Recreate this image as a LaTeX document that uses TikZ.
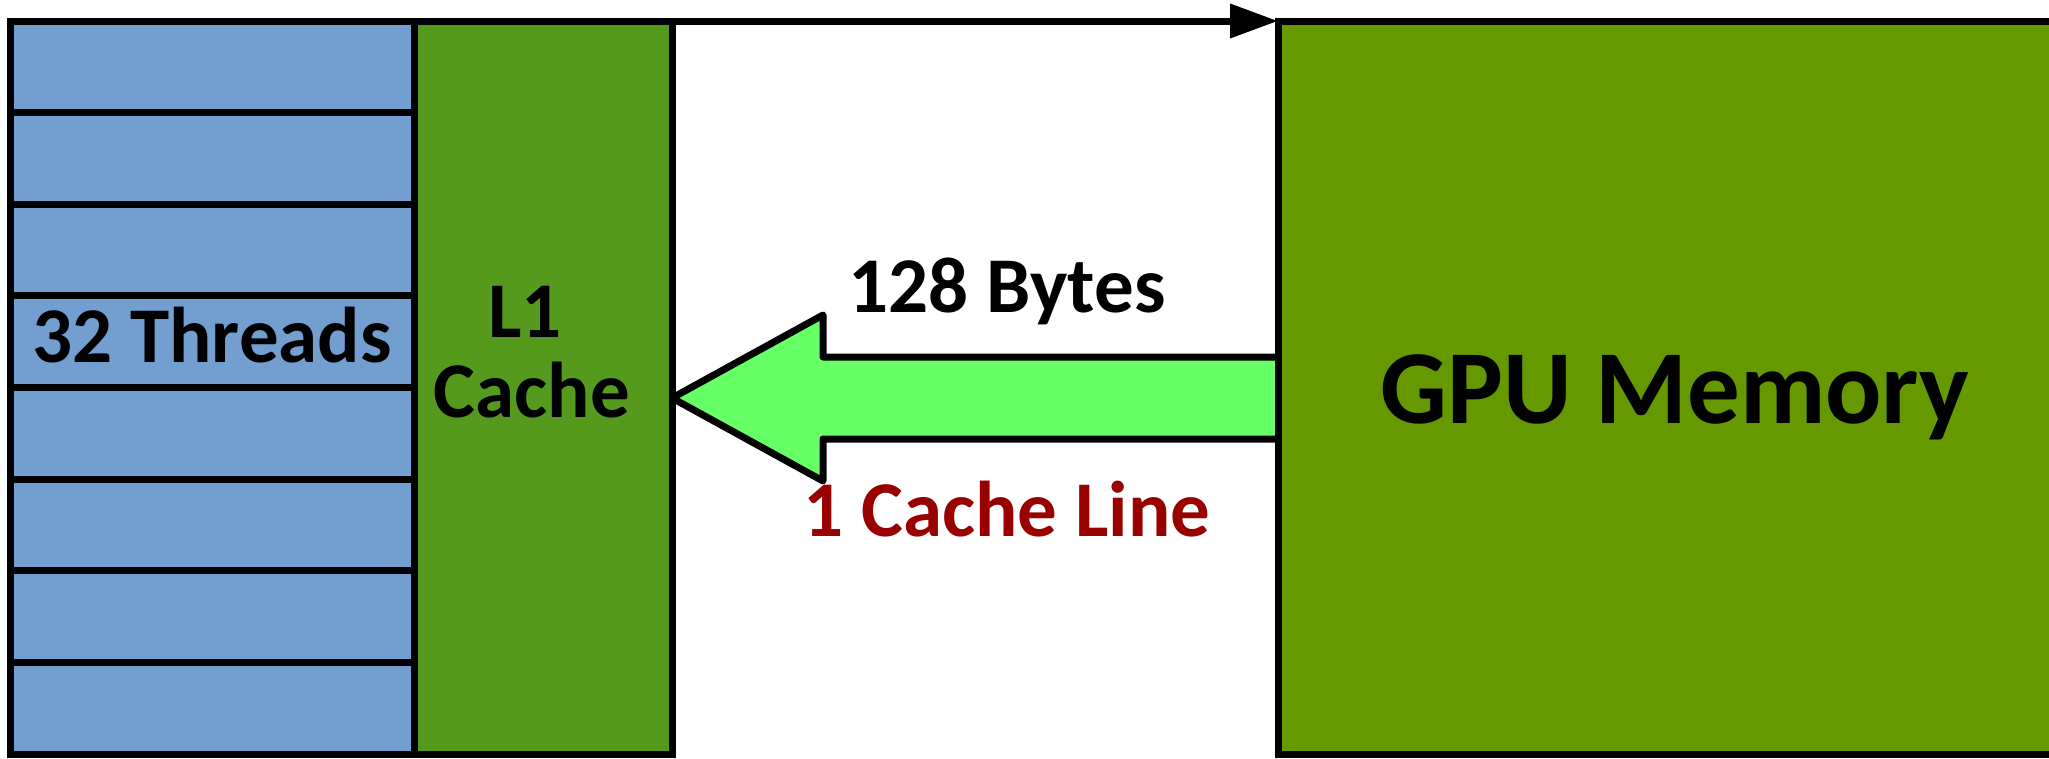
\documentclass[tikz,border=0pt]{standalone}
\usepackage{fontspec}
\setmainfont{Carlito}
\usetikzlibrary{arrows.meta,backgrounds}
\definecolor{threadblue}{HTML}{729FCF}
\definecolor{lonegreen}{HTML}{559A1C}
\definecolor{gpugreen}{HTML}{669900}
\definecolor{arrowgreen}{HTML}{66FF66}
\definecolor{labelred}{HTML}{990000}
\tikzset{
  box/.style={draw=black, line width=7pt, inner sep=0pt, outer sep=0pt, anchor=north west},
  threadrow/.style={box, fill=threadblue, minimum width=403.5pt, minimum height=91.625pt},
  lbl/.style={font=\bfseries\fontsize{79}{95}\selectfont, inner sep=0pt, anchor=base},
  biglbl/.style={font=\bfseries\fontsize{105}{126}\selectfont, inner sep=0pt, anchor=base},
  fetcharrow/.style={draw=black, fill=arrowgreen, line width=7pt, line join=round},
  reqarrow/.style={draw=black, line width=7pt, -{Triangle[length=48pt,width=33pt]}}
}
\begin{document}
\begin{tikzpicture}[x=1pt,y=-1pt]
\useasboundingbox (0,0) rectangle (2049,758);
\foreach \i in {0,...,7}{
  \node[threadrow] (t\i) at (10.5,{21+91.625*\i}) {};
}
\node[box, fill=lonegreen, minimum width=258pt, minimum height=733pt] (l1) at (414,21) {};
\node[box, fill=gpugreen, minimum width=774pt, minimum height=733pt] (gpu) at (1278,21) {};
\begin{scope}[on background layer]
\draw[fetcharrow] (gpu.north west |- 0,357) -- (823,357) -- (823,315)
  -- (l1.north east |- 0,398) -- (823,481) -- (823,439) -- (gpu.north west |- 0,439);
\end{scope}
\draw[reqarrow] (t0.north west) -- (gpu.north west);
\node[lbl] (thr) at (212,362) {32 Threads};
\node[lbl] (l1a) at (525,337) {L1};
\node[lbl] (l1b) at (532,417) {Cache};
\node[lbl] (bytes) at (1007,312) {128 Bytes};
\node[lbl, text=labelred] (line) at (1007,536) {1 Cache Line};
\node[biglbl] (mem) at (1675,423) {GPU Memory};
\end{tikzpicture}
\end{document}
